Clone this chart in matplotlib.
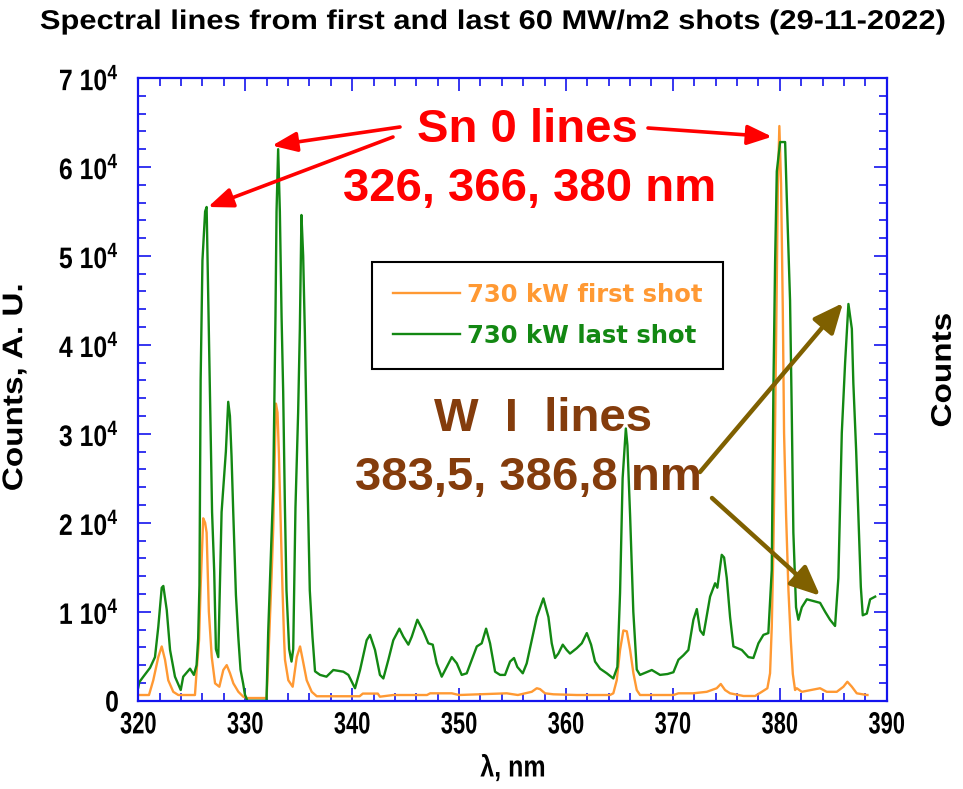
import matplotlib
matplotlib.use("Agg")
import matplotlib.pyplot as plt
from matplotlib.ticker import MultipleLocator, FixedLocator, FuncFormatter
from matplotlib.patheffects import AbstractPathEffect
from matplotlib.transforms import Affine2D

# ---------------- data ----------------
wl_last = [320.0, 320.1, 320.47, 321.1, 321.56, 321.87, 322.19, 322.34, 322.66, 322.97,
           323.43, 323.97, 324.2, 324.84, 325.2, 325.45, 325.6, 325.72, 325.83, 326.0,
           326.25, 326.39, 326.54, 326.7, 326.9, 327.1, 327.26, 327.48, 327.79, 328.19,
           328.41, 328.57, 328.72, 328.88, 329.13, 329.35, 329.56, 329.81, 329.97, 330.2,
           331.99, 332.15, 332.62, 332.83, 332.93, 333.08, 333.24, 333.4, 333.55, 333.71,
           333.86, 334.11, 334.33, 334.49, 334.7, 334.95, 335.11, 335.26, 335.42, 335.58,
           335.83, 336.04, 336.29, 336.53, 337.0, 337.6, 338.24, 339.18, 339.65, 340.27,
           340.74, 341.36, 341.67, 342.14, 342.6, 342.92, 343.39, 343.85, 344.42, 344.79,
           345.26, 345.58, 346.1, 346.66, 347.13, 347.54, 347.91, 348.38, 348.85, 349.32,
           349.79, 350.25, 350.72, 351.19, 351.66, 352.12, 352.53, 352.9, 353.37, 353.84,
           354.3, 354.77, 355.14, 355.45, 355.96, 356.33, 356.8, 357.27, 357.89, 358.36,
           358.67, 358.98, 359.29, 359.7, 360.07, 360.38, 361.01, 361.48, 361.95, 362.35,
           362.72, 363.19, 363.82, 364.43, 364.81, 365.06, 365.3, 365.6, 365.75, 366.0,
           366.3, 366.62, 366.93, 368.03, 368.8, 369.5, 370.05, 370.52, 370.98, 371.45,
           371.92, 372.24, 372.55, 372.86, 373.48, 373.95, 374.16, 374.57, 374.79, 375.04,
           375.35, 375.66, 376.45, 377.06, 377.53, 378.0, 378.47, 378.93, 379.25, 379.4,
           379.56, 379.72, 380.03, 380.5, 380.65, 380.96, 381.12, 381.27, 381.52, 381.74,
           382.06, 382.53, 383.14, 383.77, 384.24, 384.7, 385.17, 385.48, 385.8, 386.11,
           386.42, 386.74, 386.88, 387.14, 387.35, 387.58, 387.76, 388.14, 388.45, 388.92]
counts_last = [1500, 2100, 2700, 3700, 4900, 8300, 12700, 12900, 10200, 5700,
               2700, 1200, 2700, 3600, 2900, 4000, 7000, 13000, 36000, 49500,
               55000, 55500, 45500, 34800, 21200, 14500, 5800, 4900, 21200, 28000,
               33600, 32000, 27500, 21200, 11900, 7200, 3500, 1900, 700, 0,
               0, 7700, 24000, 43200, 55000, 62000, 55000, 43200, 34800, 22000,
               12400, 5800, 4400, 5800, 21700, 32400, 41800, 54600, 50000, 41300,
               24500, 12400, 7200, 3300, 2900, 2700, 3450, 3260, 2900, 1400,
               3450, 6800, 7400, 5700, 2900, 2500, 4600, 6800, 8100, 7200,
               6300, 7200, 9100, 7800, 6450, 6300, 4200, 2700, 3800, 4900,
               4200, 2900, 3080, 4600, 6100, 6450, 8100, 6450, 3260, 2900,
               2900, 4400, 4800, 3800, 3080, 4200, 6800, 9400, 11500, 9400,
               6450, 4800, 5300, 6300, 5700, 5300, 5900, 6450, 7600, 6300,
               4400, 3600, 3080, 2500, 3800, 12100, 25000, 30600, 28700, 20800,
               10000, 3500, 2900, 3450, 2900, 3000, 3200, 4600, 5100, 5700,
               9100, 10300, 7900, 7400, 11700, 13200, 12700, 16400, 16100, 13800,
               9400, 6100, 5700, 4900, 4800, 6450, 7400, 7600, 14700, 34800,
               49200, 59500, 62800, 62800, 56700, 45000, 32400, 18900, 10500, 9100,
               10500, 11400, 11200, 11000, 10000, 9100, 8400, 13800, 30100, 38000,
               44600, 41800, 35700, 28200, 20800, 12800, 9600, 9800, 11400, 11700]

wl_first = [320.0, 321.0, 321.4, 321.87, 322.19, 322.5, 322.8, 323.27, 323.74, 325.3,
            325.46, 325.68, 325.83, 326.07, 326.25, 326.39, 326.6, 326.87, 327.18, 327.58,
            327.95, 328.27, 328.58, 328.89, 329.36, 329.82, 330.2, 332.0, 332.16, 332.46,
            332.62, 332.87, 333.02, 333.15, 333.3, 333.49, 333.64, 333.72, 334.03, 334.44,
            334.82, 335.13, 335.38, 335.75, 336.22, 336.69, 340.7, 341.0, 342.4, 342.6,
            343.85, 347.0, 347.3, 349.32, 350.0, 354.46, 355.5, 356.8, 357.27, 357.58,
            358.04, 358.82, 361.01, 364.12, 364.43, 364.75, 365.06, 365.37, 365.69, 366.0,
            366.31, 366.62, 366.93, 370.05, 370.52, 371.9, 373.17, 374.1, 374.48, 374.88,
            375.35, 376.6, 377.69, 378.32, 378.84, 379.09, 379.25, 379.4, 379.55, 379.7,
            379.82, 379.96, 380.12, 380.28, 380.4, 380.59, 380.81, 381.03, 381.22, 381.43,
            381.59, 382.06, 383.77, 384.39, 385.33, 385.95, 386.32, 386.74, 387.2, 388.14,
            388.2]
counts_first = [640, 640, 2300, 4900, 6100, 4600, 2300, 1000, 640, 640,
                3450, 6800, 12800, 20500, 20000, 18900, 10000, 4900, 1950, 1570,
                3450, 4000, 3080, 1950, 1000, 450, 300, 300, 4600, 13800,
                19400, 33400, 32400, 27800, 20800, 12400, 6800, 4600, 2300, 1570,
                4900, 6100, 4600, 2300, 1000, 500, 500, 800, 800, 450,
                640, 640, 830, 830, 640, 830, 640, 1000, 1400, 1300,
                830, 720, 640, 640, 830, 2300, 5700, 7900, 7800, 5700,
                3080, 1200, 640, 640, 830, 830, 1000, 1400, 1880, 1200,
                830, 530, 530, 1000, 1400, 3080, 8300, 17000, 30000, 45000,
                58000, 64600, 58100, 44100, 30100, 20800, 12400, 6800, 3000, 1200,
                1400, 1000, 1400, 1000, 1000, 1570, 2130, 1570, 830, 640,
                640]

series_labels = ["730 kW first shot", "730 kW last shot"]
ytick_values = [0, 10000, 20000, 30000, 40000, 50000, 60000, 70000]


# ---------------- helpers ----------------
class Stretch(AbstractPathEffect):
    """Draw text with its glyphs scaled (sx along the text, sy across it)."""

    def __init__(self, sx=1.0, sy=1.0, anchor="center"):
        super().__init__()
        self.sx, self.sy, self.anchor = sx, sy, anchor

    def draw_path(self, renderer, gc, tpath, affine, rgbFace=None):
        ext = tpath.get_extents()
        if self.anchor == "left":
            cx = ext.x0
        elif self.anchor == "right":
            cx = ext.x1
        else:
            cx = 0.5 * (ext.x0 + ext.x1)
        cy = 0.5 * (ext.y0 + ext.y1)
        t = Affine2D().translate(-cx, -cy).scale(self.sx, self.sy).translate(cx, cy)
        renderer.draw_path(gc, tpath, t + affine, rgbFace)


W, H = 963, 789
ARIAL = ["Liberation Sans", "DejaVu Sans"]
plt.rcParams["mathtext.fontset"] = "custom"
plt.rcParams["mathtext.rm"] = "Liberation Sans:bold"
plt.rcParams["mathtext.bf"] = "Liberation Sans:bold"
plt.rcParams["mathtext.default"] = "rm"

BLUE = "#1414EE"
ORANGE = "#FF9933"
GREEN = "#138813"
RED = "#FF0000"
BROWN_T = "#843C0C"
BROWN_A = "#7F6000"


def fp(x, y):
    return (x / W, 1 - y / H)


fig = plt.figure(figsize=(W / 100, H / 100), dpi=100)
x0, x1, y0, y1 = 138.3, 886.7, 78.0, 700.7
ax = fig.add_axes([x0 / W, 1 - y1 / H, (x1 - x0) / W, (y1 - y0) / H])

l1, = ax.plot(wl_first, counts_first, color=ORANGE, lw=1.7, label=series_labels[0])
l2, = ax.plot(wl_last, counts_last, color=GREEN, lw=1.7, label=series_labels[1])

ax.set_xlim(320, 390)
ax.set_ylim(0, 70000)
ax.xaxis.set_major_locator(MultipleLocator(10))
ax.xaxis.set_minor_locator(MultipleLocator(2))
ax.yaxis.set_major_locator(FixedLocator(ytick_values))
ax.yaxis.set_minor_locator(MultipleLocator(2000))


def yfmt(v, pos):
    k = int(round(v / 10000))
    return "0" if k == 0 else r"%d 10$^{4}$" % k


ax.yaxis.set_major_formatter(FuncFormatter(yfmt))
for s in ax.spines.values():
    s.set_color(BLUE)
    s.set_linewidth(1.6)
ax.tick_params(which="both", direction="in", top=True, right=True, color=BLUE, width=1.2)
ax.tick_params(which="major", length=9.5, labelsize=17.5)
ax.tick_params(which="minor", length=5.5)
ax.tick_params(axis="y", which="major", pad=14)
ax.tick_params(axis="x", which="major", pad=9)
for lab in ax.get_xticklabels():
    lab.set_family(ARIAL)
    lab.set_fontweight("bold")
    lab.set_fontsize(17.5)
    lab.set_path_effects([Stretch(sx=0.9, sy=1.26, anchor="center")])
for lab in ax.get_yticklabels():
    lab.set_family(ARIAL)
    lab.set_fontweight("bold")
    lab.set_fontsize(17.5)
    lab.set_path_effects([Stretch(sx=1.02, sy=1.22, anchor="right")])

# titles / labels
fig.text(*fp(40, 22), "Spectral lines from first and last 60 MW/m2 shots (29-11-2022)",
         ha="left", va="center", fontsize=19.5, fontweight="bold", family=ARIAL,
         path_effects=[Stretch(sx=1.14, anchor="left")])
fig.text(*fp(513, 768), "λ, nm", ha="center", va="center", fontsize=18,
         fontweight="bold", family=ARIAL, path_effects=[Stretch(sx=1.0, sy=1.2)])
fig.text(*fp(15, 387), "Counts, A. U.", rotation=90, ha="center", va="center",
         fontsize=24, fontweight="bold", family=ARIAL, path_effects=[Stretch(sy=0.85)])
fig.text(*fp(944, 370), "Counts", rotation=90, ha="center", va="center",
         fontsize=24, fontweight="bold", family=ARIAL, path_effects=[Stretch(sy=0.85)])

# legend
leg = ax.legend(handles=[l1, l2], loc="upper left", bbox_to_anchor=fp(372, 262),
                bbox_transform=fig.transFigure, borderaxespad=0, fancybox=False,
                framealpha=1, edgecolor="black", labelcolor="linecolor",
                prop={"family": "DejaVu Sans", "weight": "bold", "size": 17.5},
                handlelength=2.75, handletextpad=0.3, borderpad=0.86, labelspacing=0.7)
leg.get_frame().set_linewidth(1.5)

# annotations
big = dict(fontsize=34, fontweight="bold", family=ARIAL, ha="center", va="center")
fig.text(*fp(527, 130), "Sn 0 lines", color=RED, **big)
fig.text(*fp(530, 189), "326, 366, 380 nm", color=RED, **big)
fig.text(*fp(543, 419), "W  I  lines", color=BROWN_T, **big)
fig.text(*fp(528, 478), "383,5, 386,8 nm", color=BROWN_T, **big)

red_arrow = dict(arrowstyle="-|>,head_length=0.75,head_width=0.3", color=RED, lw=2.6,
                 shrinkA=0, shrinkB=0, mutation_scale=20)
brown_arrow = dict(arrowstyle="-|>,head_length=0.9,head_width=0.4", color=BROWN_A, lw=3.2,
                   shrinkA=0, shrinkB=0, mutation_scale=20)
ax.annotate("", xy=(326.52, 55500), xycoords="data", xytext=fp(393, 137),
            textcoords="figure fraction", arrowprops=red_arrow)
ax.annotate("", xy=(332.51, 62400), xycoords="data", xytext=fp(400, 127),
            textcoords="figure fraction", arrowprops=red_arrow)
ax.annotate("", xy=(379.28, 63400), xycoords="data", xytext=fp(648, 128),
            textcoords="figure fraction", arrowprops=red_arrow)
ax.annotate("", xy=(385.91, 44700), xycoords="data", xytext=fp(700, 472),
            textcoords="figure fraction", arrowprops=brown_arrow)
ax.annotate("", xy=(383.77, 11800), xycoords="data", xytext=fp(712, 498),
            textcoords="figure fraction", arrowprops=brown_arrow)

fig.savefig("out.png", dpi=100)
